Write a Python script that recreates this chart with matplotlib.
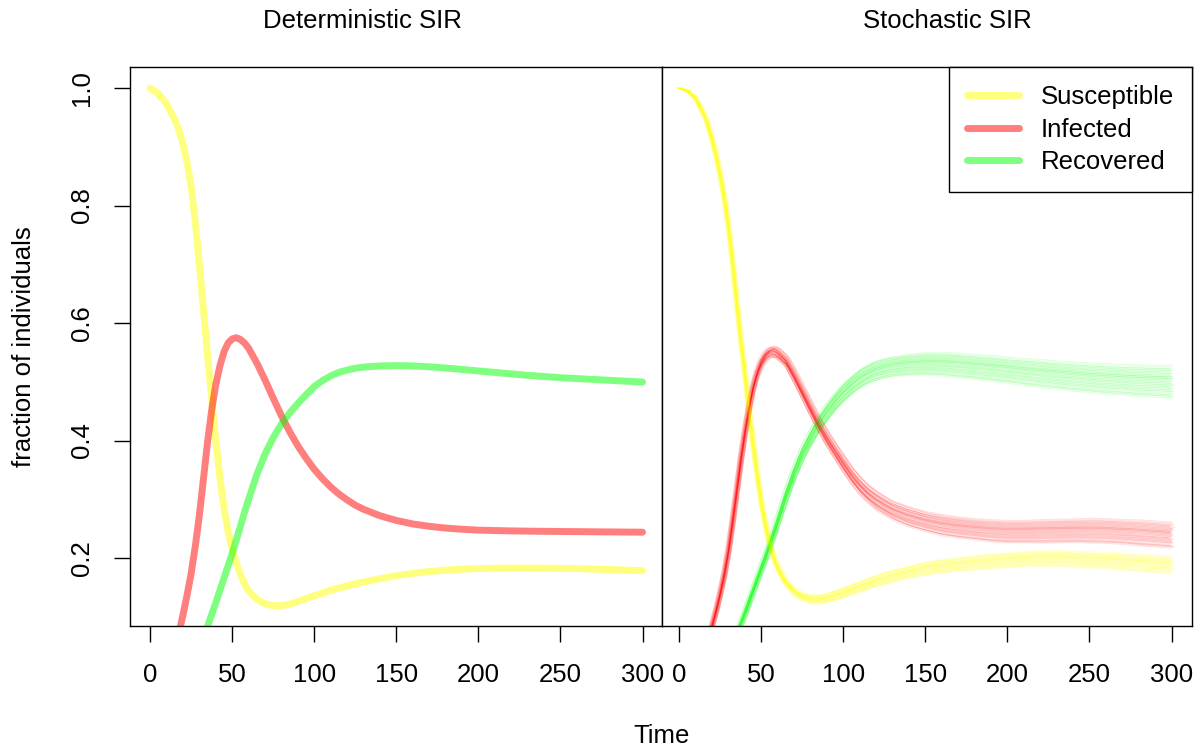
import numpy as np
import matplotlib
matplotlib.use("Agg")
import matplotlib.pyplot as plt
from matplotlib.lines import Line2D

plt.rcParams["font.family"] = ["Liberation Sans", "DejaVu Sans"]

# Time grid (days)
time = np.array([0, 5, 10, 15, 17.5, 20, 22.5, 25, 27.5, 30,
                 32.5, 35, 37.5, 40, 42.5, 45, 47.5, 50, 52.5, 55,
                 57.5, 60, 65, 70, 75, 80, 85, 90, 95, 100,
                 105, 110, 115, 120, 125, 130, 140, 150, 160, 170,
                 180, 190, 200, 210, 220, 230, 240, 250, 260, 270,
                 280, 290, 300])

# Deterministic SIR solution (fractions)
det_S = np.array([1.000, 0.990, 0.973, 0.946, 0.928, 0.905, 0.873, 0.832, 0.772, 0.700,
                  0.622, 0.545, 0.470, 0.400, 0.337, 0.285, 0.245, 0.215, 0.192, 0.172,
                  0.156, 0.144, 0.1295, 0.122, 0.119, 0.1188, 0.1215, 0.126, 0.131, 0.136,
                  0.1405, 0.145, 0.149, 0.1525, 0.156, 0.159, 0.165, 0.170, 0.174, 0.177,
                  0.1795, 0.181, 0.182, 0.1828, 0.183, 0.183, 0.1828, 0.1825, 0.182, 0.1812,
                  0.1805, 0.1795, 0.1785])
det_I = np.array([0.002, 0.006, 0.016, 0.045, 0.072, 0.103, 0.137, 0.174, 0.220, 0.273,
                  0.335, 0.398, 0.452, 0.495, 0.527, 0.551, 0.566, 0.573, 0.575, 0.572,
                  0.566, 0.557, 0.532, 0.503, 0.472, 0.442, 0.415, 0.391, 0.370, 0.351,
                  0.335, 0.321, 0.309, 0.299, 0.290, 0.283, 0.272, 0.264, 0.258, 0.254,
                  0.251, 0.249, 0.2475, 0.2468, 0.2462, 0.2458, 0.2455, 0.2452, 0.245, 0.2447,
                  0.2445, 0.2442, 0.244])
det_R = np.array([0.000, 0.000, 0.001, 0.003, 0.006, 0.010, 0.016, 0.024, 0.034, 0.047,
                  0.064, 0.084, 0.104, 0.124, 0.145, 0.166, 0.187, 0.208, 0.231, 0.254,
                  0.278, 0.300, 0.342, 0.377, 0.405, 0.428, 0.447, 0.463, 0.478, 0.492,
                  0.502, 0.510, 0.516, 0.520, 0.523, 0.525, 0.527, 0.5275, 0.527, 0.5255,
                  0.5235, 0.521, 0.5185, 0.516, 0.5135, 0.511, 0.509, 0.507, 0.5055, 0.504,
                  0.5025, 0.501, 0.4995])

# Stochastic SIR: ensemble centre
sto_S = np.array([1.000, 0.995, 0.982, 0.955, 0.936, 0.912, 0.884, 0.851, 0.810, 0.762,
                  0.702, 0.634, 0.570, 0.512, 0.452, 0.393, 0.340, 0.294, 0.256, 0.225,
                  0.201, 0.183, 0.158, 0.143, 0.134, 0.130, 0.1295, 0.132, 0.136, 0.141,
                  0.146, 0.151, 0.156, 0.161, 0.165, 0.169, 0.176, 0.182, 0.186, 0.189,
                  0.192, 0.1945, 0.1965, 0.198, 0.1995, 0.199, 0.198, 0.197, 0.196, 0.194,
                  0.192, 0.190, 0.188])
sto_I = np.array([0.002, 0.004, 0.010, 0.030, 0.055, 0.085, 0.111, 0.140, 0.173, 0.213,
                  0.262, 0.314, 0.367, 0.414, 0.455, 0.490, 0.515, 0.533, 0.544, 0.550,
                  0.551, 0.548, 0.535, 0.510, 0.482, 0.454, 0.427, 0.403, 0.381, 0.360,
                  0.340, 0.323, 0.309, 0.298, 0.289, 0.281, 0.270, 0.262, 0.256, 0.252,
                  0.249, 0.2465, 0.245, 0.245, 0.2455, 0.246, 0.2465, 0.2465, 0.246, 0.2445,
                  0.243, 0.241, 0.239])
sto_R = np.array([0.000, 0.000, 0.001, 0.002, 0.004, 0.006, 0.009, 0.014, 0.021, 0.032,
                  0.048, 0.068, 0.088, 0.106, 0.125, 0.144, 0.163, 0.182, 0.201, 0.221,
                  0.241, 0.262, 0.305, 0.344, 0.377, 0.404, 0.428, 0.448, 0.466, 0.481,
                  0.494, 0.505, 0.513, 0.519, 0.523, 0.526, 0.529, 0.5305, 0.530, 0.528,
                  0.5255, 0.523, 0.520, 0.517, 0.514, 0.5115, 0.509, 0.507, 0.505, 0.5035,
                  0.502, 0.501, 0.500])

# Ensemble half-widths
spread_S = np.array([0.000, 0.001, 0.002, 0.003, 0.003, 0.004, 0.005, 0.005, 0.005, 0.005,
                     0.005, 0.005, 0.005, 0.005, 0.005, 0.005, 0.005, 0.005, 0.005, 0.005,
                     0.005, 0.006, 0.006, 0.007, 0.007, 0.008, 0.008, 0.008, 0.009, 0.009,
                     0.009, 0.010, 0.010, 0.010, 0.011, 0.011, 0.011, 0.012, 0.012, 0.012,
                     0.013, 0.013, 0.013, 0.013, 0.014, 0.014, 0.014, 0.014, 0.014, 0.015,
                     0.015, 0.015, 0.015])
spread_I = np.array([0.000, 0.000, 0.001, 0.002, 0.002, 0.003, 0.003, 0.004, 0.004, 0.005,
                     0.005, 0.005, 0.006, 0.006, 0.006, 0.007, 0.007, 0.008, 0.009, 0.009,
                     0.010, 0.010, 0.010, 0.011, 0.011, 0.012, 0.012, 0.013, 0.013, 0.014,
                     0.014, 0.015, 0.015, 0.016, 0.016, 0.016, 0.017, 0.017, 0.018, 0.018,
                     0.018, 0.019, 0.019, 0.019, 0.020, 0.020, 0.020, 0.021, 0.021, 0.021,
                     0.022, 0.022, 0.022])
spread_R = np.array([0.000, 0.000, 0.000, 0.001, 0.001, 0.002, 0.002, 0.003, 0.003, 0.003,
                     0.004, 0.004, 0.004, 0.005, 0.005, 0.005, 0.006, 0.006, 0.006, 0.007,
                     0.007, 0.008, 0.009, 0.010, 0.011, 0.012, 0.013, 0.014, 0.014, 0.015,
                     0.015, 0.016, 0.016, 0.017, 0.017, 0.017, 0.018, 0.019, 0.020, 0.021,
                     0.021, 0.022, 0.022, 0.023, 0.024, 0.024, 0.025, 0.025, 0.026, 0.026,
                     0.027, 0.027, 0.028])

# Per-run timing lag (days) and level offset (in half-widths)
run_lag = [-1.6, -1.1, -0.7, -0.4, -0.2, 0.0, 0.2, 0.5, 0.8, 1.2,
           1.7, -0.9, -0.3, 0.1, 0.4, -1.3, 0.6, -0.5, 0.9, -0.1,
           0.3, -0.8, 1.4, -0.2, 0.0, -1.9, 0.7, -0.6, 0.2, 1.0,
           -0.4, 0.5, -1.0, 0.1, -0.3, 1.9, -0.7, 0.3, -0.1, 0.6]
run_level = [0.8, -0.3, 0.5, -0.9, 0.1, 0.6, -0.6, 0.2, -0.1, 0.9,
             -0.4, 0.3, -0.8, 0.0, 0.7, -0.2, 0.4, -0.7, 1.0, -0.5,
             0.1, -1.0, 0.5, -0.3, 0.2, 0.6, -0.6, 0.3, -0.1, -0.8,
             0.8, -0.4, 0.0, 0.4, -0.9, 0.2, 0.7, -0.2, -0.5, 0.3]

labels = ["Susceptible", "Infected", "Recovered"]
colors = ["#FFFF00", "#FF0000", "#00FF00"]
xticks = [0, 50, 100, 150, 200, 250, 300]
yticks = [0.2, 0.4, 0.6, 0.8, 1.0]
fs = 18.5

fig = plt.figure(figsize=(11.99, 7.5), dpi=100)
ax1 = fig.add_axes([0.1088, 0.1657, 0.4435, 0.7445])
ax2 = fig.add_axes([0.5524, 0.1657, 0.4415, 0.7445])

# Deterministic panel
for vals, col in zip([det_S, det_I, det_R], colors):
    ax1.plot(time, vals, color=col, alpha=0.5, lw=5, solid_capstyle="round")

# Stochastic panel
n = len(run_lag)
for k in range(n):
    x = time + run_lag[k]
    ax2.plot(x, sto_S + run_level[k] * spread_S, color=colors[0], alpha=0.12, lw=0.8)
    ax2.plot(x, sto_I + run_level[(k * 7) % n] * spread_I, color=colors[1], alpha=0.12, lw=0.8)
    ax2.plot(x, sto_R + run_level[(k * 13) % n] * spread_R, color=colors[2], alpha=0.12, lw=0.8)

ax1.set_xlim(-12, 312)
ax2.set_xlim(-10.4, 312.3)
for ax in (ax1, ax2):
    ax.set_ylim(0.0848, 1.0352)
    ax.set_xticks(xticks)
    ax.set_xticklabels([str(t) for t in xticks])
    ax.tick_params(axis="x", direction="out", length=11.5, width=1.0,
                   labelsize=fs, pad=15)
    for sp in ax.spines.values():
        sp.set_linewidth(1.0)
        sp.set_color("black")

ax1.set_yticks(yticks)
ax1.set_yticklabels(["0.2", "0.4", "0.6", "0.8", "1.0"], rotation=90, va="center")
ax1.tick_params(axis="y", direction="out", length=11.5, width=1.0,
                labelsize=fs, pad=15)
ax2.set_yticks([])

handles = [Line2D([0], [0], color=c, alpha=0.5, lw=5, solid_capstyle="round")
           for c in colors]
leg = ax2.legend(handles, labels, loc="upper right", bbox_to_anchor=(1, 1),
                 borderaxespad=0, fancybox=False, edgecolor="black", framealpha=1,
                 fontsize=fs, handlelength=2.02, handletextpad=0.82,
                 labelspacing=0.33, borderpad=0.7)
leg.get_frame().set_linewidth(1.0)

fig.text(362 / 1199, 1 - 28.3 / 750, "Deterministic SIR", ha="center",
         va="baseline", fontsize=fs)
fig.text(947.5 / 1199, 1 - 28.3 / 750, "Stochastic SIR", ha="center",
         va="baseline", fontsize=fs)
fig.text(661.5 / 1199, 1 - 743.3 / 750, "Time", ha="center", va="baseline",
         fontsize=fs)
fig.text(24 / 1199, 1 - 346.5 / 750, "fraction of individuals", ha="center",
         va="center", rotation=90, fontsize=fs)

fig.savefig("out.png", dpi=100)
